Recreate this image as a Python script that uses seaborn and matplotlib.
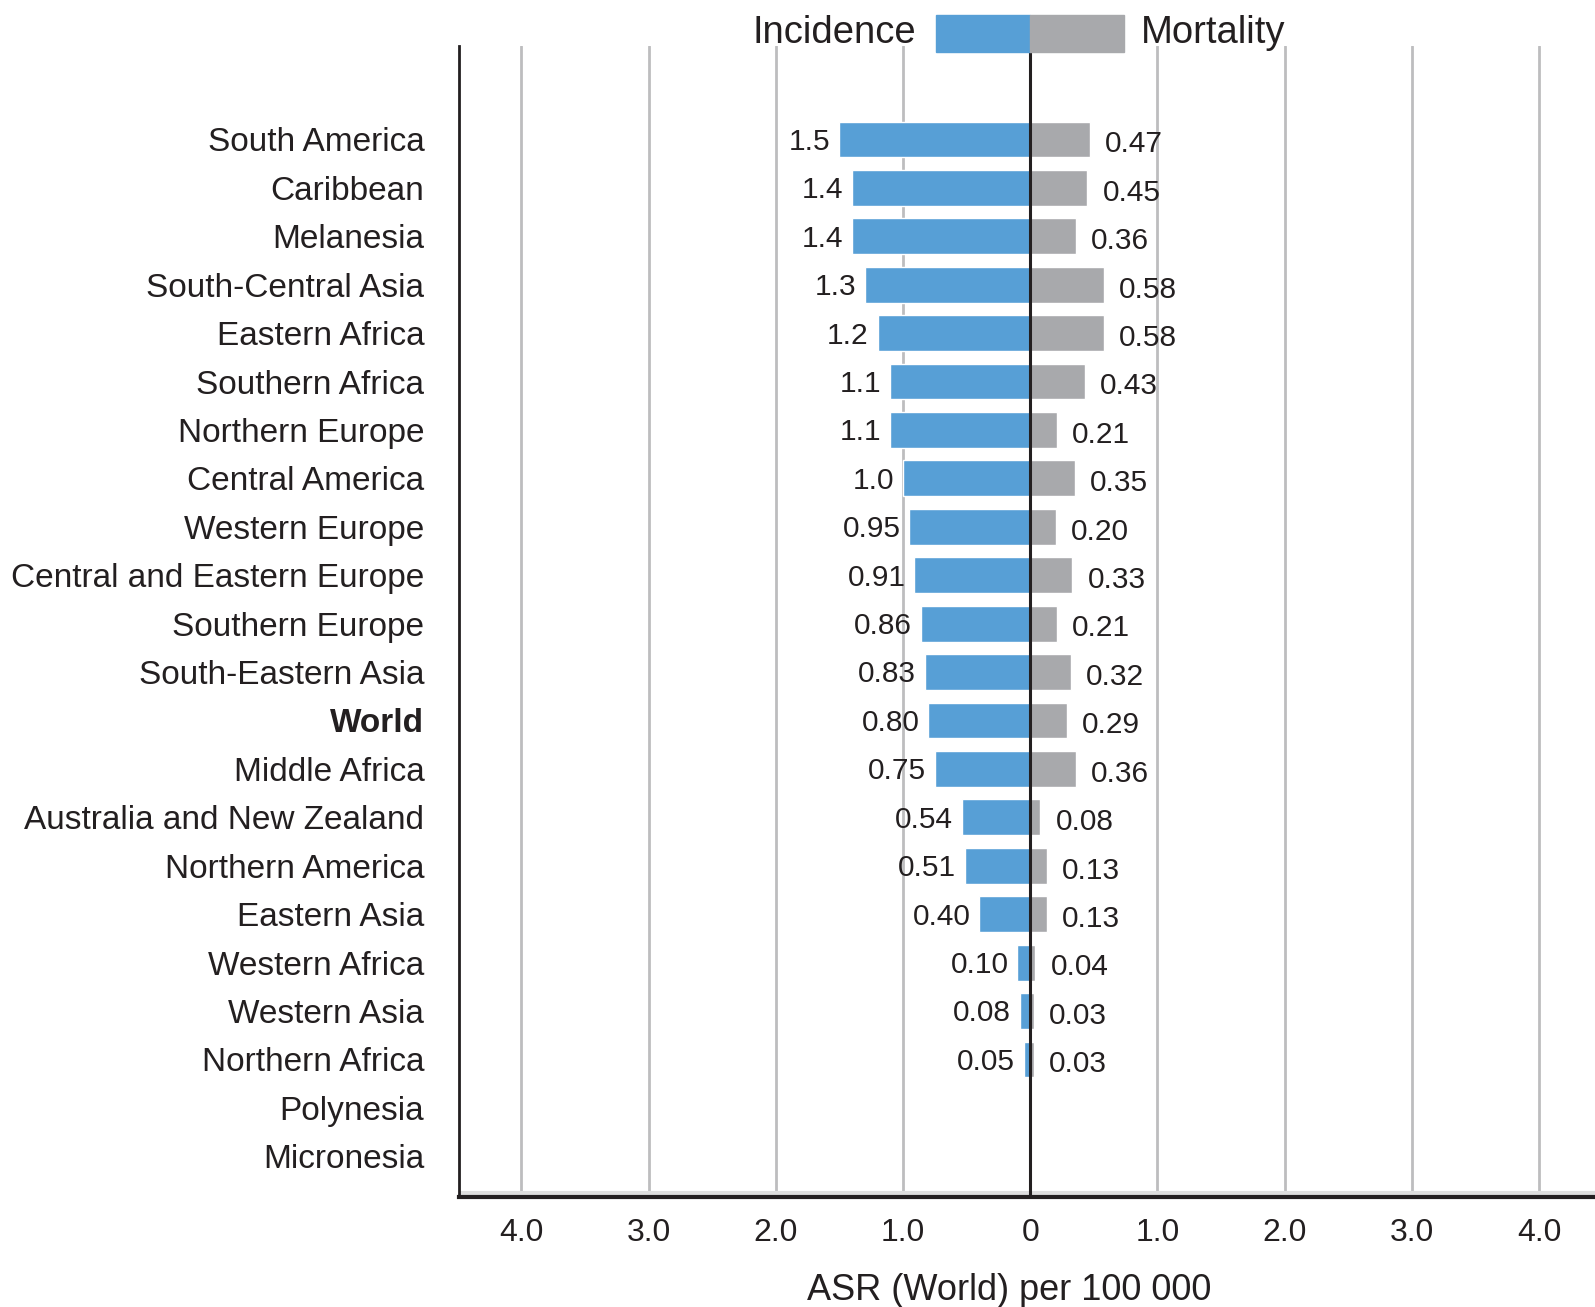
import numpy as np
import pandas as pd
import matplotlib
matplotlib.use('Agg')
import matplotlib.pyplot as plt
from matplotlib.patches import Rectangle
import seaborn as sns

regions = ['South America', 'Caribbean', 'Melanesia', 'South-Central Asia', 'Eastern Africa',
           'Southern Africa', 'Northern Europe', 'Central America', 'Western Europe',
           'Central and Eastern Europe', 'Southern Europe', 'South-Eastern Asia', 'World',
           'Middle Africa', 'Australia and New Zealand', 'Northern America', 'Eastern Asia',
           'Western Africa', 'Western Asia', 'Northern Africa', 'Polynesia', 'Micronesia']
incidence_txt = ['1.5', '1.4', '1.4', '1.3', '1.2', '1.1', '1.1', '1.0', '0.95', '0.91', '0.86',
                 '0.83', '0.80', '0.75', '0.54', '0.51', '0.40', '0.10', '0.08', '0.05', '', '']
mortality_txt = ['0.47', '0.45', '0.36', '0.58', '0.58', '0.43', '0.21', '0.35', '0.20', '0.33',
                 '0.21', '0.32', '0.29', '0.36', '0.08', '0.13', '0.13', '0.04', '0.03', '0.03', '', '']
xticks = [-4, -3, -2, -1, 0, 1, 2, 3, 4]
xtick_labels = ['4.0', '3.0', '2.0', '1.0', '0', '1.0', '2.0', '3.0', '4.0']

blue = '#579fd6'
grey = '#a8a9ac'
txt = '#231f20'

df = pd.DataFrame({
    'region': regions,
    'incidence': [float(s) if s else np.nan for s in incidence_txt],
    'mortality': [float(s) if s else np.nan for s in mortality_txt],
})

sns.set_style('white')
plt.rcParams['font.family'] = ['Liberation Sans', 'DejaVu Sans']

fig = plt.figure(figsize=(15.95, 13.07), dpi=100)
ax = fig.add_axes([0.2878, 0.0842, 0.7122, 0.8806])

sns.barplot(x=-df['incidence'], y=df['region'], order=regions, color=blue,
            width=0.74, saturation=1, orient='h', ax=ax)
sns.barplot(x=df['mortality'], y=df['region'], order=regions, color=grey,
            width=0.74, saturation=1, orient='h', ax=ax)
for p in ax.patches:
    p.set_zorder(3)

ax.set_xlim(-4.49, 4.44)
ax.set_ylim(21.84, -1.93)

# grid + zero line
for t in xticks:
    if t == 0:
        ax.axvline(0, color=txt, lw=2.2, zorder=4)
    else:
        ax.axvline(t, color='#bdbdbf', lw=2, zorder=0.5)
ax.axhline(21.76, color='#dedede', lw=3, zorder=0.6)

# value labels
for i, (a, b) in enumerate(zip(incidence_txt, mortality_txt)):
    if a:
        ax.text(-float(a) - 0.07, i + 0.05, a, ha='right', va='center', fontsize=21.5, color=txt)
    if b:
        ax.text(float(b) + 0.12, i + 0.1, b, ha='left', va='center', fontsize=21.5, color=txt)

ax.set_xticks(xticks)
ax.set_xticklabels(xtick_labels, fontsize=23, color=txt)
ax.tick_params(axis='x', direction='out', length=9, width=1.5, color=txt, pad=6)
ax.tick_params(axis='y', length=0, pad=25, labelsize=24, labelcolor=txt)
for lab in ax.get_yticklabels():
    if lab.get_text() == 'World':
        lab.set_fontweight('bold')
ax.set_ylabel('')
ax.set_xlabel('ASR (World) per 100 000', fontsize=26, color=txt, labelpad=18)
ax.xaxis.label.set_x(0.484)

for s in ['top', 'right']:
    ax.spines[s].set_visible(False)
ax.spines['left'].set_color(txt)
ax.spines['left'].set_linewidth(2)
ax.spines['bottom'].set_color(txt)
ax.spines['bottom'].set_linewidth(3)

# legend drawn above the plot
ax.add_patch(Rectangle((-0.74, -2.58), 0.74, 0.77, color=blue, clip_on=False, zorder=5))
ax.add_patch(Rectangle((0, -2.58), 0.74, 0.77, color=grey, clip_on=False, zorder=5))
ax.text(-0.9, -2.2, 'Incidence', ha='right', va='center', fontsize=27.5, color=txt, clip_on=False)
ax.text(0.87, -2.2, 'Mortality', ha='left', va='center', fontsize=27.5, color=txt, clip_on=False)

fig.savefig('out.png', dpi=100)
